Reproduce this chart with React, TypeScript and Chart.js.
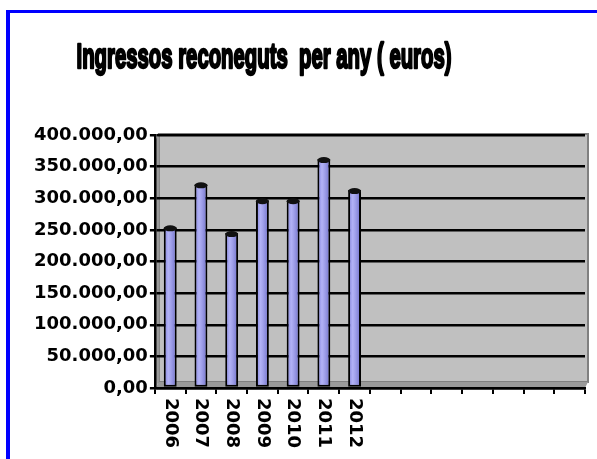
import React, { useEffect, useRef } from "react";
import { Chart, registerables } from "chart.js";

Chart.register(...registerables);

const TITLE = "Ingressos reconeguts  per any ( euros)";
const YEARS = ["2006", "2007", "2008", "2009", "2010", "2011", "2012", "", "", "", "", "", "", ""];
const INGRESSOS = [254000, 322000, 245000, 297000, 297000, 362000, 313000];
const Y_MIN = 0;
const Y_MAX = 400000;
const Y_STEP = 50000;

function fmt(v: number): string {
  const s = Math.round(v).toString().replace(/\B(?=(\d{3})+(?!\d))/g, ".");
  return s + ",00";
}

const LABEL_FONT = "bold 18px 'DejaVu Sans', sans-serif";

const decor = {
  id: "decor",
  beforeDraw(chart: any) {
    const { ctx, chartArea: a, width, height } = chart;
    ctx.save();
    ctx.fillStyle = "#ffffff";
    ctx.fillRect(0, 0, width, height);
    // blue frame
    ctx.fillStyle = "#0000FF";
    ctx.fillRect(6, 10, 4, height);
    ctx.fillRect(6, 10, width, 3);
    // title
    ctx.save();
    ctx.font = "bold 35px 'Liberation Sans Narrow', 'Liberation Sans', sans-serif";
    const tw = ctx.measureText(TITLE).width;
    ctx.translate(264, 68);
    ctx.scale(375 / tw, 1);
    ctx.textAlign = "center";
    ctx.textBaseline = "alphabetic";
    ctx.fillStyle = "#000";
    ctx.strokeStyle = "#000";
    ctx.lineWidth = 2.5;
    ctx.lineJoin = "round";
    ctx.strokeText(TITLE, 0, 0);
    ctx.fillText(TITLE, 0, 0);
    ctx.restore();
    // 3D walls
    const d = 4;
    const h = 6;
    // back wall
    ctx.fillStyle = "#C0C0C0";
    ctx.fillRect(a.left + d, a.top - 1, a.right + 3 - (a.left + d), a.bottom - h - (a.top - 1));
    ctx.strokeStyle = "#808080";
    ctx.lineWidth = 2;
    ctx.strokeRect(a.left + d, a.top - 1, a.right + 3 - (a.left + d), a.bottom - h - (a.top - 1));
    // left wall
    ctx.fillStyle = "#9C9C9C";
    ctx.beginPath();
    ctx.moveTo(a.left, a.bottom);
    ctx.lineTo(a.left + d, a.bottom - h);
    ctx.lineTo(a.left + d, a.top - 1);
    ctx.lineTo(a.left, a.top + h);
    ctx.closePath();
    ctx.fill();
    // floor
    ctx.fillStyle = "#9A9A9A";
    ctx.beginPath();
    ctx.moveTo(a.left, a.bottom);
    ctx.lineTo(a.right, a.bottom);
    ctx.lineTo(a.right + 3, a.bottom - h);
    ctx.lineTo(a.left + d, a.bottom - h);
    ctx.closePath();
    ctx.fill();
    ctx.restore();
  },
  afterDatasetsDraw(chart: any) {
    const { ctx } = chart;
    const meta = chart.getDatasetMeta(0);
    ctx.save();
    meta.data.forEach((bar: any) => {
      const { x, y, base, width } = bar.getProps(["x", "y", "base", "width"], true);
      const g = ctx.createLinearGradient(x - width / 2, 0, x + width / 2, 0);
      g.addColorStop(0, "rgba(60,60,170,0.35)");
      g.addColorStop(0.35, "rgba(255,255,255,0.28)");
      g.addColorStop(1, "rgba(40,40,130,0.4)");
      ctx.fillStyle = g;
      ctx.fillRect(x - width / 2 + 2, y, width - 4, base - y - 2);
      ctx.beginPath();
      ctx.ellipse(x, y + 1, width / 2, 3, 0, 0, Math.PI * 2);
      ctx.fillStyle = "#111";
      ctx.fill();
    });
    ctx.restore();
  },
  afterDraw(chart: any) {
    const { ctx, chartArea: a } = chart;
    const xs = chart.scales.x;
    ctx.save();
    ctx.font = LABEL_FONT;
    ctx.fillStyle = "#000";
    ctx.textAlign = "left";
    ctx.textBaseline = "middle";
    YEARS.forEach((lab, i) => {
      if (!lab) return;
      const px = xs.getPixelForValue(i);
      ctx.save();
      ctx.translate(px, a.bottom + 10);
      ctx.rotate(Math.PI / 2);
      ctx.fillText(lab, 0, 0);
      ctx.restore();
    });
    ctx.restore();
  },
};

export default function App() {
  const ref = useRef<HTMLCanvasElement | null>(null);
  useEffect(() => {
    if (!ref.current) return;
    const chart = new Chart(ref.current, {
      type: "bar",
      data: {
        labels: YEARS,
        datasets: [
          {
            label: "Ingressos",
            data: INGRESSOS,
            backgroundColor: "#9494F2",
            borderColor: "#000000",
            borderWidth: 2,
            borderSkipped: false,
            barPercentage: 0.42,
            categoryPercentage: 1,
          },
        ],
      },
      options: {
        responsive: false,
        animation: false,
        layout: { padding: { top: 135, left: 32, right: 12, bottom: 65 } },
        plugins: {
          legend: { display: false },
          tooltip: { enabled: false },
          title: { display: false },
        },
        scales: {
          x: {
            grid: {
              display: true,
              drawOnChartArea: false,
              drawTicks: true,
              tickLength: 6,
              color: "#000",
              lineWidth: 2,
            },
            border: { display: true, color: "#000", width: 2.5 },
            ticks: { display: false },
          },
          y: {
            min: Y_MIN,
            max: Y_MAX,
            ticks: {
              stepSize: Y_STEP,
              color: "#000",
              font: { family: "'DejaVu Sans', sans-serif", size: 18, weight: "bold" },
              padding: 2,
              callback: (v: any) => fmt(Number(v)),
            },
            grid: { color: "#000", lineWidth: 2.5, tickLength: 5 },
            border: { display: true, color: "#000", width: 2.5 },
          },
        },
      },
      plugins: [decor],
    });
    return () => chart.destroy();
  }, []);
  return (
    <div style={{ position: "absolute", left: 0, top: 0, width: 597, height: 459 }}>
      <canvas ref={ref} width={597} height={459} style={{ display: "block" }} />
    </div>
  );
}
